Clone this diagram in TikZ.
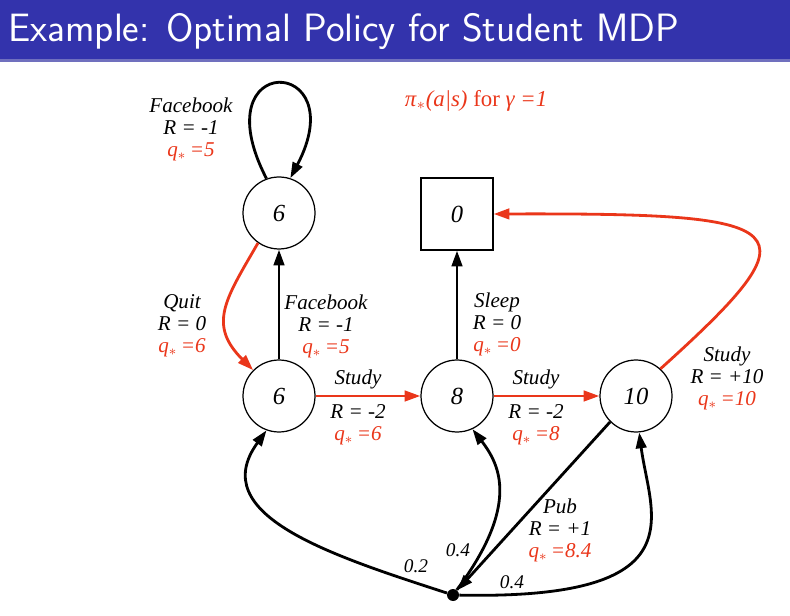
\documentclass[tikz,border=0pt]{standalone}
\usepackage{fontspec}
\setmainfont{Liberation Serif}
\usetikzlibrary{arrows.meta}
\definecolor{titleblue}{RGB}{51,51,172}
\definecolor{titleedge}{RGB}{112,112,190}
\definecolor{optred}{RGB}{234,54,26}
% action label: name, reward, optimal q value
\newcommand{\actlbl}[3]{#1\\R = #2\\\textcolor{optred}{q\textsubscript{$\ast$}\,=#3}}
\begin{document}
\begin{tikzpicture}[x=0.02cm,y=0.02cm,
  state/.style={draw, circle, line width=0.7pt, minimum size=1.44cm, inner sep=0pt, font=\fontsize{14}{14}\selectfont\itshape},
  termstate/.style={draw, rectangle, line width=0.7pt, minimum size=1.44cm, inner sep=0pt, font=\fontsize{14}{14}\selectfont\itshape},
  arr/.style={line width=1.6pt, -{Triangle[length=9pt,width=6pt]}},
  optarr/.style={arr, color=optred},
  lbl/.style={align=center, font=\fontsize{12}{12.5}\selectfont\itshape},
  problbl/.style={font=\fontsize{11}{11}\selectfont\itshape}
]
\useasboundingbox (0,0) rectangle (790,615);

% title bar
\fill[titleblue] (0,555) rectangle (790,615);
\fill[titleedge] (0,553) rectangle (790,556);
\node[anchor=base west, inner sep=0pt, text=white, font=\fontsize{22.5}{22.5}\selectfont\sffamily] (title) at (8,573) {Example: Optimal Policy for Student MDP};
\node[text=optred, font=\fontsize{13}{13}\selectfont] (policy) at (476,514) {\textit{π}\textsubscript{$\ast$}\textit{(a|s)} for \textit{γ =1}};

% states
\node[state] (fb) at (279,402) {6};
\node[state] (cone) at (279,219) {6};
\node[state] (ctwo) at (457,219) {8};
\node[state] (cthree) at (636,219) {10};
\node[termstate] (sleep) at (457,401) {0};
\node[circle, fill, inner sep=0pt, minimum size=0.24cm] (pub) at (453,20) {};

% actions
\draw[arr] (fb.110) .. controls (200,565) and (355,560) .. (fb.72);
\draw[optarr] (fb.235) to[out=240, in=135, looseness=1.3] (cone.135);
\draw[arr] (cone) -- (fb);
\draw[optarr] (cone) -- (ctwo);
\draw[arr] (ctwo) -- (sleep);
\draw[optarr] (ctwo) -- (cthree);
\draw[optarr] (cthree.48) .. controls (820,390) and (800,402) .. (sleep.east);
\draw[arr] (cthree.225) -- (pub);
\draw[arr] (pub) .. controls (330,60) and (205,100) .. (cone.250);
\draw[arr] (pub) .. controls (520,110) and (500,150) .. (ctwo.295);
\draw[arr] (pub) .. controls (700,15) and (650,100) .. (cthree.275);

% action labels
\node[lbl] (lblloop) at (191,486) {\actlbl{Facebook}{-1}{5}};
\node[lbl] (lblquit) at (182,289) {\actlbl{Quit}{0}{6}};
\node[lbl] (lblfb) at (326,289) {\actlbl{Facebook}{-1}{5}};
\node[lbl] (lblsleep) at (497,291) {\actlbl{Sleep}{0}{0}};
\node[lbl] (lblstudyten) at (727,237) {\actlbl{Study}{+10}{10}};
\node[lbl] (lblpub) at (560,85) {\actlbl{Pub}{+1}{8.4}};
\node[lbl] (lblstudyone) at (358,236) {Study};
\node[lbl] (lblrone) at (358,190) {R = -2\\\textcolor{optred}{q\textsubscript{$\ast$}\,=6}};
\node[lbl] (lblstudytwo) at (536,236) {Study};
\node[lbl] (lblrtwo) at (536,190) {R = -2\\\textcolor{optred}{q\textsubscript{$\ast$}\,=8}};

% transition probabilities
\node[problbl] (pone) at (416,49) {0.2};
\node[problbl] (ptwo) at (458,65) {0.4};
\node[problbl] (pthree) at (512,33) {0.4};
\end{tikzpicture}
\end{document}
